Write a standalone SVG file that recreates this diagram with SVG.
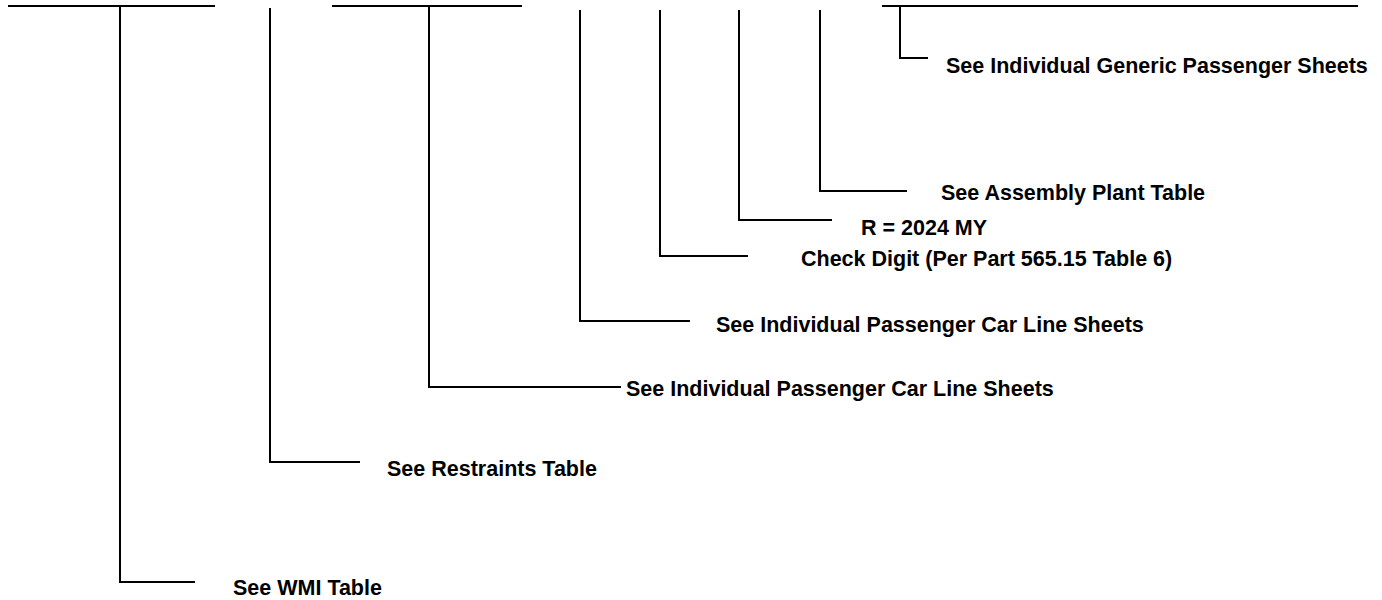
<svg xmlns="http://www.w3.org/2000/svg" width="1382" height="600" viewBox="0 0 1382 600">
<style>
.c{fill:none;stroke:#000;stroke-width:2}
.t{font-family:"Liberation Sans",Arial,sans-serif;font-weight:bold;font-size:21.5px;fill:#000}
</style>
<rect width="1382" height="600" fill="#fff"/>
<g id="connectors">
<line class="c" x1="8" y1="6" x2="215" y2="6"/>
<line class="c" x1="332" y1="6" x2="522" y2="6"/>
<line class="c" x1="882" y1="6" x2="1358" y2="6"/>
<polyline class="c" points="120,6 120,582 195,582"/>
<polyline class="c" points="270,8 270,462 360,462"/>
<polyline class="c" points="429,6 429,387 621,387"/>
<polyline class="c" points="580,10 580,321 690,321"/>
<polyline class="c" points="660,10 660,256 748,256"/>
<polyline class="c" points="739,10 739,220 832,220"/>
<polyline class="c" points="820,10 820,191 907,191"/>
<polyline class="c" points="900,6 900,58 928,58"/>
</g>
<g id="n-wmi"><text class="t" x="233" y="595">See WMI Table</text></g>
<g id="n-restraints"><text class="t" x="387" y="476">See Restraints Table</text></g>
<g id="n-carline1"><text class="t" x="626" y="396">See Individual Passenger Car Line Sheets</text></g>
<g id="n-carline2"><text class="t" x="716" y="332">See Individual Passenger Car Line Sheets</text></g>
<g id="n-check"><text class="t" x="801" y="266">Check Digit (Per Part 565.15 Table 6)</text></g>
<g id="n-year"><text class="t" x="861" y="235">R = 2024 MY</text></g>
<g id="n-plant"><text class="t" x="941" y="200">See Assembly Plant Table</text></g>
<g id="n-generic"><text class="t" x="946" y="73">See Individual Generic Passenger Sheets</text></g>
</svg>
